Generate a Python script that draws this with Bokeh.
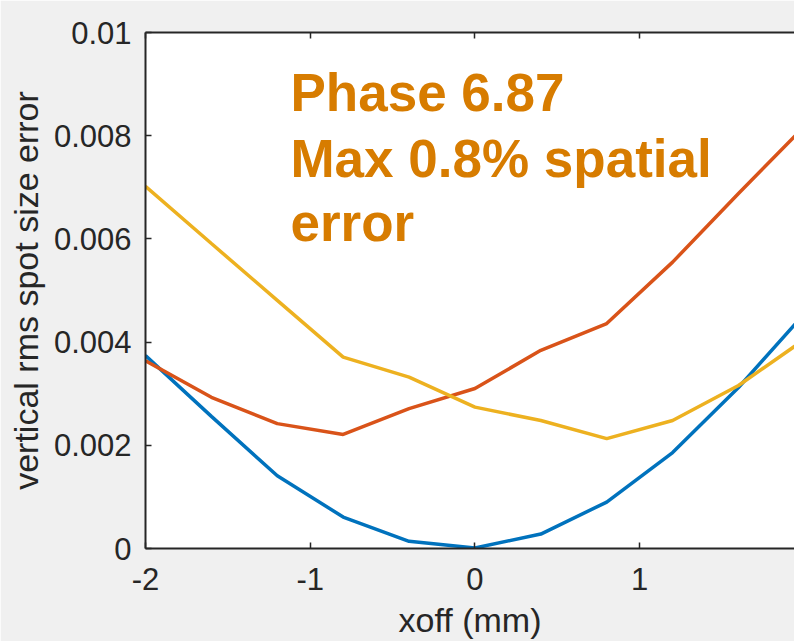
from bokeh.plotting import figure
from bokeh.models import Range1d, LinearAxis, FixedTicker, Label
from bokeh.embed import file_html
from bokeh.resources import INLINE

# Data
xoff = [-2.0, -1.6, -1.2, -0.8, -0.4, 0.0, 0.4, 0.8, 1.2, 1.6, 2.0]
blue = [0.00374, 0.00256, 0.00141, 0.00061, 0.00014, 0.00001, 0.00028, 0.00090, 0.00186, 0.00312, 0.00455]
red = [0.00364, 0.00293, 0.00242, 0.00221, 0.00271, 0.00310, 0.00384, 0.00436, 0.00555, 0.00688, 0.00818]
yellow = [0.00702, 0.00591, 0.00481, 0.00371, 0.00332, 0.00274, 0.00248, 0.00213, 0.00248, 0.00316, 0.00405]
x_ticks = [-2, -1, 0, 1, 2]
x_tick_labels = ["-2", "-1", "0", "1", "2"]
y_ticks = [0, 0.002, 0.004, 0.006, 0.008, 0.01]
y_tick_labels = ["0", "0.002", "0.004", "0.006", "0.008", "0.01"]
note_lines = ["Phase 6.87", "Max 0.8% spatial", "error"]

AX = "#262626"
FONT = "Liberation Sans"

p = figure(width=794, height=641, output_backend="svg", toolbar_location=None,
           x_range=Range1d(-2, 1.94), y_range=Range1d(0, 0.01),
           min_border_left=145, min_border_top=32, min_border_right=0, min_border_bottom=93,
           background_fill_color="white", border_fill_color="#F0F0F0",
           outline_line_color=None)
p.grid.visible = False

for ax in (p.xaxis[0], p.yaxis[0]):
    ax.axis_line_color = AX
    ax.axis_line_width = 2
    ax.major_tick_line_color = AX
    ax.major_tick_line_width = 1.5
    ax.major_tick_in = 6
    ax.major_tick_out = 0
    ax.minor_tick_line_color = None
    ax.major_label_text_font = FONT
    ax.major_label_text_font_size = "31px"
    ax.major_label_text_color = AX
    ax.axis_label_text_font = FONT
    ax.axis_label_text_font_size = "34px"
    ax.axis_label_text_font_style = "normal"
    ax.axis_label_text_color = AX

p.xaxis[0].ticker = FixedTicker(ticks=x_ticks)
p.xaxis[0].major_label_overrides = {t: s for t, s in zip(x_ticks, x_tick_labels)}
p.xaxis[0].major_label_standoff = 19
p.xaxis[0].axis_label = "xoff (mm)"
p.xaxis[0].axis_label_standoff = 8

p.yaxis[0].ticker = FixedTicker(ticks=y_ticks)
p.yaxis[0].major_label_overrides = {t: s for t, s in zip(y_ticks, y_tick_labels)}
p.yaxis[0].major_label_standoff = 14
p.yaxis[0].axis_label = "vertical rms spot size error"
p.yaxis[0].axis_label_standoff = 6

top = LinearAxis(ticker=FixedTicker(ticks=x_ticks), axis_line_color=AX, axis_line_width=2,
                 major_tick_line_color=AX, major_tick_line_width=1.5, major_tick_in=6, major_tick_out=0,
                 minor_tick_line_color=None, major_label_text_font_size="1px",
                 major_label_text_color=None, major_label_standoff=0)
p.add_layout(top, "above")

p.line(xoff, blue, line_color="#0072BD", line_width=3.5)
p.line(xoff, red, line_color="#D95319", line_width=3.5)
p.line(xoff, yellow, line_color="#EDB120", line_width=3.5)

note_y = [0.00884, 0.00756, 0.00632]
for txt, yy in zip(note_lines, note_y):
    p.add_layout(Label(x=-1.12, y=yy, text=txt, text_font=FONT, text_font_size="53px",
                       text_font_style="bold", text_color="#D77C00", text_baseline="alphabetic"))

open("out.html", "w").write(file_html(p, INLINE))
